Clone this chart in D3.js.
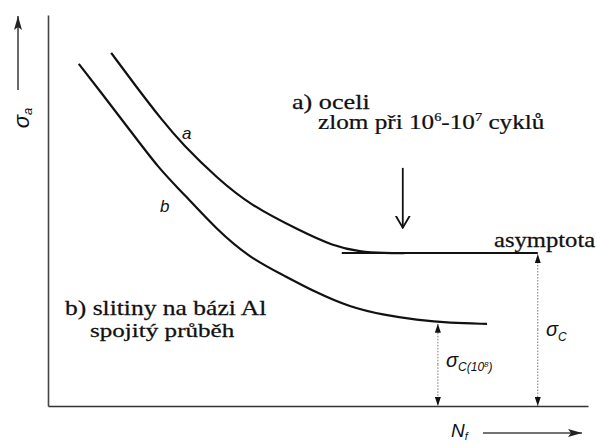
<!DOCTYPE html>
<html>
<head>
<meta charset="utf-8">
<script src="https://cdn.jsdelivr.net/npm/d3@7"></script>
<style>
  html, body { margin: 0; padding: 0; background: #fff; }
  svg { display: block; }
</style>
</head>
<body>
<svg id="chart" width="597" height="443"></svg>
<script>
// Wöhler (S–N) curves, stress amplitude vs. cycles to failure, in relative units (0–100)
// a) steels: curve levels off at a horizontal asymptote (fatigue limit)
const cyclesA = [11.7, 16.1, 21.1, 25.0, 31.3, 37.4, 46.7, 52.8, 57.8, 62.4, 66.0];
const stressA = [90.3, 82.1, 73.1, 66.8, 58.3, 51.4, 44.8, 40.9, 39.4, 39.1, 39.1];
// b) Al alloys: continuous decrease, no true limit
const cyclesB = [5.7, 9.6, 14.6, 20.7, 25.0, 31.3, 37.4, 43.5, 49.8, 55.9, 62.0, 68.3, 74.4, 81.3];
const stressB = [87.5, 80.6, 71.6, 60.4, 54.5, 45.0, 37.9, 33.5, 28.9, 25.3, 23.3, 22.0, 21.2, 21.0];
// asymptote of curve a
const asymptoteCycles = [54.4, 90.7];
const asymptoteStress = 39.1;
// dimension lines: σC(10^8) for curve b, σC for curve a
const limitCycles = [72.2, 90.7];
const limitStress = [21.3, 39.1];

const SERIF = "'Liberation Serif', 'Times New Roman', Times, 'DejaVu Serif', serif";
const SANS_I = "'Liberation Sans', 'DejaVu Sans', Arial, sans-serif";

const svg = d3.select("#chart");
const x = d3.scaleLinear().domain([0, 100]).range([48, 588]);
const y = d3.scaleLinear().domain([0, 100]).range([406, 15]);

const defs = svg.append("defs");
// filled arrowhead for axis arrows
defs.append("marker").attr("id", "headAxis")
  .attr("viewBox", "0 0 14 8").attr("refX", 14).attr("refY", 4)
  .attr("markerWidth", 14).attr("markerHeight", 8).attr("markerUnits", "userSpaceOnUse")
  .attr("orient", "auto")
  .append("path").attr("d", "M0,0 L14,4 L0,8 L3,4 Z").attr("fill", "#222");
// small filled arrowhead for dimension lines
defs.append("marker").attr("id", "headDim")
  .attr("viewBox", "0 0 9 6").attr("refX", 9).attr("refY", 3)
  .attr("markerWidth", 9).attr("markerHeight", 6).attr("markerUnits", "userSpaceOnUse")
  .attr("orient", "auto")
  .append("path").attr("d", "M0,0 L9,3 L0,6 Z").attr("fill", "#111");
// open V arrowhead
defs.append("marker").attr("id", "headOpen")
  .attr("viewBox", "0 0 13 16").attr("refX", 12).attr("refY", 8)
  .attr("markerWidth", 13).attr("markerHeight", 16).attr("markerUnits", "userSpaceOnUse")
  .attr("orient", "auto")
  .append("path").attr("d", "M0,1 L12,8 L0,15").attr("fill", "none")
  .attr("stroke", "#111").attr("stroke-width", 1.8);

// axes (bare lines, no ticks)
svg.append("g").attr("transform", `translate(0,${y(0)})`)
  .call(d3.axisBottom(x).ticks(0).tickSizeOuter(0))
  .call(g => g.select(".domain").attr("stroke", "#333").attr("stroke-width", 1.6));
svg.append("g").attr("transform", `translate(${x(0)},0)`)
  .call(d3.axisLeft(y).ticks(0).tickSizeOuter(0))
  .call(g => g.select(".domain").attr("stroke", "#444").attr("stroke-width", 1.6));

// curves
const line = d3.line().x(d => x(d[0])).y(d => y(d[1])).curve(d3.curveBasis);
const seriesA = cyclesA.map((c, i) => [c, stressA[i]]);
const seriesB = cyclesB.map((c, i) => [c, stressB[i]]);
svg.append("path").datum(seriesA).attr("d", line)
  .attr("fill", "none").attr("stroke", "#111").attr("stroke-width", 2.2);
svg.append("path").datum(seriesB).attr("d", line)
  .attr("fill", "none").attr("stroke", "#111").attr("stroke-width", 2.2);

// asymptote
svg.append("line")
  .attr("x1", x(asymptoteCycles[0])).attr("x2", x(asymptoteCycles[1]))
  .attr("y1", y(asymptoteStress)).attr("y2", y(asymptoteStress))
  .attr("stroke", "#111").attr("stroke-width", 2);

// dimension lines down to the N axis
limitCycles.forEach((c, i) => {
  const xm = x(c), yTop = y(limitStress[i]), yBot = y(0);
  const mid = (yTop + yBot) / 2;
  svg.append("line").attr("x1", xm).attr("x2", xm).attr("y1", mid).attr("y2", yTop + 1)
    .attr("stroke", "#777").attr("stroke-width", 1).attr("stroke-dasharray", "1.5,1.5")
    .attr("marker-end", "url(#headDim)");
  svg.append("line").attr("x1", xm).attr("x2", xm).attr("y1", mid).attr("y2", yBot)
    .attr("stroke", "#777").attr("stroke-width", 1).attr("stroke-dasharray", "1.5,1.5")
    .attr("marker-end", "url(#headDim)");
});

// arrow pointing at the knee of curve a
svg.append("line")
  .attr("x1", x(65.7)).attr("x2", x(65.7))
  .attr("y1", y(60.9)).attr("y2", y(45.6))
  .attr("stroke", "#111").attr("stroke-width", 1.8)
  .attr("marker-end", "url(#headOpen)");

// axis arrows
svg.append("line").attr("x1", 18).attr("x2", 18).attr("y1", 90).attr("y2", 16)
  .attr("stroke", "#444").attr("stroke-width", 1.6).attr("marker-end", "url(#headAxis)");
svg.append("line").attr("x1", 483).attr("x2", 582).attr("y1", 433).attr("y2", 433)
  .attr("stroke", "#444").attr("stroke-width", 1.6).attr("marker-end", "url(#headAxis)");

function ital(sel) {
  return sel.attr("font-family", SANS_I).attr("font-style", "italic").attr("fill", "#111");
}

// axis titles
const yt = ital(svg.append("text"))
  .attr("transform", "translate(29,118) rotate(-90)")
  .attr("text-anchor", "middle").attr("font-size", 22);
yt.append("tspan").text("σ");
yt.append("tspan").attr("font-size", 13).attr("dy", 3).text("a");

const xt = ital(svg.append("text"))
  .attr("x", 451).attr("y", 437).attr("font-size", 19);
xt.append("tspan").text("N");
xt.append("tspan").attr("font-size", 11).attr("dy", 3).text("f");

// curve letters
ital(svg.append("text")).attr("x", 182).attr("y", 139).attr("font-size", 17).text("a");
ital(svg.append("text")).attr("x", 160).attr("y", 212).attr("font-size", 17).text("b");

// dimension labels
const s1 = ital(svg.append("text")).attr("x", 546).attr("y", 336).attr("font-size", 20);
s1.append("tspan").text("σ");
s1.append("tspan").attr("font-size", 12).attr("dy", 5).text("C");

const s2 = ital(svg.append("text")).attr("x", 446).attr("y", 367).attr("font-size", 20);
s2.append("tspan").text("σ");
s2.append("tspan").attr("font-size", 12).attr("dy", 4).text("C(10");
s2.append("tspan").attr("font-size", 8).attr("dy", -4).text("8");
s2.append("tspan").attr("font-size", 12).attr("dy", 4).text(")");

// serif annotations, set in a wide face: each line is stretched to its box width
function note(left, baseline, width, size, build) {
  const g = svg.append("g").attr("transform", `translate(${left},${baseline})`);
  const t = g.append("text").attr("font-family", SERIF).attr("font-size", size)
    .attr("fill", "#111").attr("stroke", "#111").attr("stroke-width", 0.25);
  build(t);
  const w = t.node().getBBox().width;
  g.attr("transform", `translate(${left},${baseline}) scale(${width / w},1)`);
}

note(292, 109, 78, 21, t => t.text("a) oceli"));
note(318, 129, 227, 21, t => {
  t.append("tspan").text("zlom při 10");
  t.append("tspan").attr("font-size", 12).attr("dy", -8).text("6");
  t.append("tspan").attr("dy", 8).text("-10");
  t.append("tspan").attr("font-size", 12).attr("dy", -8).text("7");
  t.append("tspan").attr("dy", 8).text(" cyklů");
});
note(494, 247, 102, 21, t => t.text("asymptota"));
note(65, 315, 202, 20, t => t.text("b) slitiny na bázi Al"));
note(90, 337, 145, 19, t => t.text("spojitý průběh"));
</script>
</body>
</html>
